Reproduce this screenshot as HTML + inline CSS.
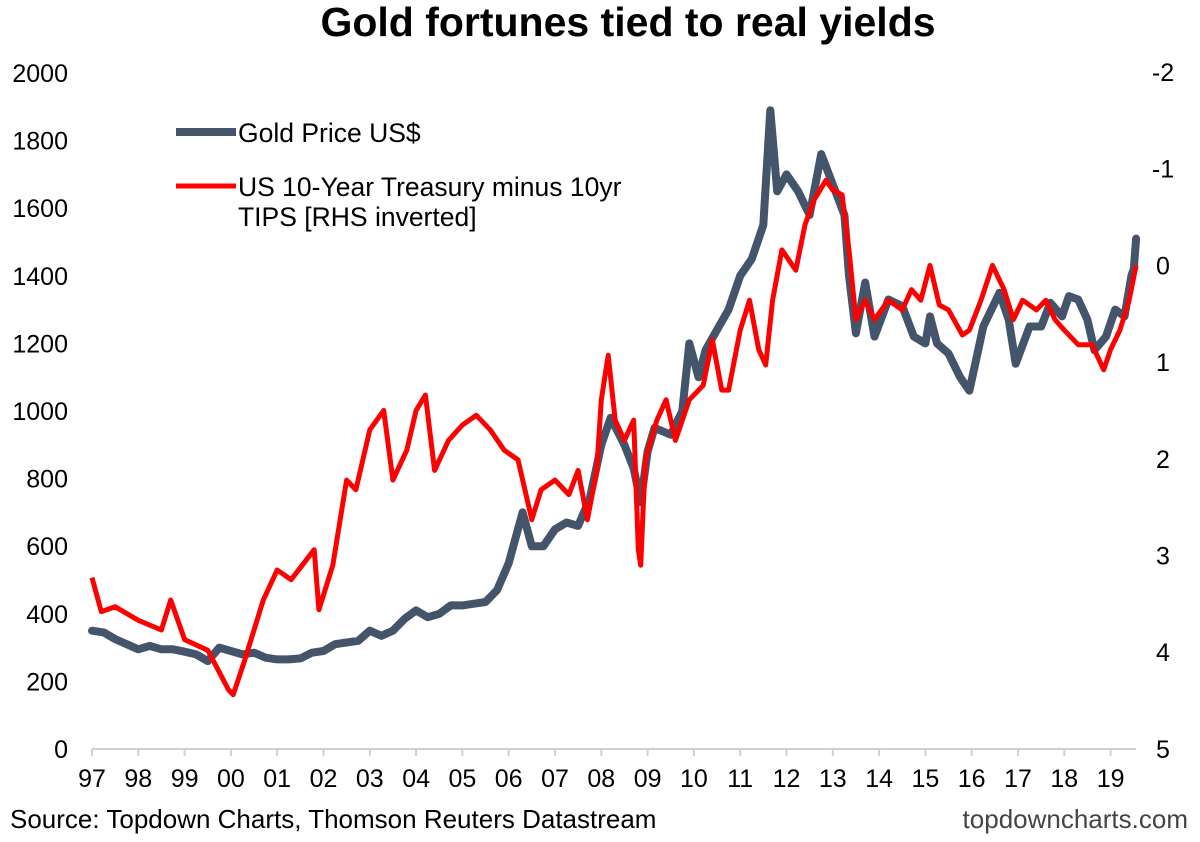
<!DOCTYPE html>
<html><head><meta charset="utf-8"><style>
body{margin:0;background:#fff;}
svg text{font-family:"Liberation Sans",Arial,sans-serif;}
</style></head><body>
<svg id="chart" width="1200" height="837" viewBox="0 0 1200 837">
<text x="628" y="36" text-anchor="middle" font-size="41" font-weight="bold">Gold fortunes tied to real yields</text>
<g id="axes"></g>
<g id="series"></g>
<g>
<line x1="176" y1="132" x2="236" y2="132" stroke="#44546a" stroke-width="8"/>
<text x="238" y="142" font-size="26.5">Gold Price US$</text>
<line x1="176" y1="186" x2="236" y2="186" stroke="#ff0000" stroke-width="5"/>
<text x="238" y="196" font-size="26.5">US 10-Year Treasury minus 10yr</text>
<text x="238" y="226" font-size="26.5">TIPS [RHS inverted]</text>
</g>
<text x="10" y="828" font-size="26">Source: Topdown Charts, Thomson Reuters Datastream</text>
<text x="1188" y="828" font-size="26" fill="#444" text-anchor="end">topdowncharts.com</text>
</svg>
<script>
const yearLabels=["97","98","99","00","01","02","03","04","05","06","07","08","09","10","11","12","13","14","15","16","17","18","19"];
const leftTicks=[0,200,400,600,800,1000,1200,1400,1600,1800,2000];
const rightTicks=[-2,-1,0,1,2,3,4,5];
const goldT=[1997,1997.25,1997.5,1997.75,1998,1998.25,1998.5,1998.75,1999,1999.25,1999.5,1999.75,2000,2000.25,2000.5,2000.75,2001,2001.25,2001.5,2001.75,2002,2002.25,2002.5,2002.75,2003,2003.25,2003.5,2003.75,2004,2004.25,2004.5,2004.75,2005,2005.25,2005.5,2005.75,2006,2006.3,2006.5,2006.75,2007,2007.25,2007.5,2007.75,2008,2008.2,2008.5,2008.7,2008.85,2009,2009.15,2009.5,2009.75,2009.9,2010.1,2010.25,2010.5,2010.75,2011,2011.25,2011.5,2011.65,2011.8,2012,2012.25,2012.5,2012.75,2013,2013.25,2013.35,2013.5,2013.7,2013.9,2014.2,2014.5,2014.75,2015,2015.1,2015.25,2015.5,2015.75,2015.95,2016.25,2016.6,2016.8,2016.95,2017.25,2017.5,2017.7,2017.95,2018.1,2018.3,2018.5,2018.65,2018.9,2019.1,2019.3,2019.45,2019.5,2019.55];
const goldV=[350,345,325,310,295,305,295,295,288,280,260,300,290,280,285,270,265,265,268,285,290,310,315,320,350,335,350,385,410,390,400,425,425,430,435,470,550,700,600,600,650,670,660,740,900,980,900,830,730,880,950,930,1000,1200,1100,1180,1240,1300,1400,1450,1550,1890,1650,1700,1650,1580,1760,1670,1580,1400,1230,1380,1220,1330,1310,1220,1200,1280,1200,1170,1100,1060,1250,1350,1270,1140,1250,1250,1320,1280,1340,1330,1270,1180,1220,1300,1280,1400,1420,1510];
const yieldT=[1997,1997.2,1997.5,1998,1998.5,1998.7,1999,1999.5,1999.95,2000.05,2000.3,2000.7,2001,2001.3,2001.8,2001.9,2002.2,2002.5,2002.7,2003,2003.3,2003.5,2003.8,2004,2004.2,2004.4,2004.7,2005,2005.3,2005.6,2005.9,2006.2,2006.5,2006.7,2007,2007.3,2007.5,2007.7,2007.9,2008,2008.15,2008.3,2008.5,2008.7,2008.8,2008.85,2008.95,2009.2,2009.4,2009.6,2009.9,2010.2,2010.4,2010.6,2010.75,2011,2011.2,2011.4,2011.55,2011.7,2011.9,2012.2,2012.4,2012.6,2012.85,2013,2013.2,2013.35,2013.5,2013.7,2013.9,2014.2,2014.5,2014.7,2014.9,2015.1,2015.3,2015.5,2015.8,2015.95,2016.2,2016.45,2016.7,2016.9,2017.1,2017.4,2017.6,2017.8,2018,2018.3,2018.6,2018.85,2019,2019.2,2019.4,2019.55];
const yieldV=[3.23,3.58,3.53,3.67,3.77,3.46,3.87,3.98,4.39,4.44,4.08,3.46,3.15,3.25,2.94,3.56,3.10,2.22,2.32,1.70,1.50,2.22,1.91,1.50,1.34,2.12,1.81,1.65,1.55,1.70,1.91,2.01,2.63,2.32,2.22,2.37,2.12,2.63,2.12,1.39,0.93,1.60,1.81,1.60,2.94,3.10,2.01,1.60,1.39,1.81,1.39,1.24,0.77,1.29,1.29,0.67,0.36,0.87,1.03,0.36,-0.16,0.05,-0.42,-0.68,-0.88,-0.78,-0.73,-0.16,0.56,0.36,0.56,0.36,0.46,0.25,0.36,0.0,0.41,0.46,0.72,0.67,0.36,0.0,0.25,0.56,0.36,0.46,0.36,0.56,0.67,0.82,0.82,1.08,0.87,0.67,0.36,0.0];
const NS="http://www.w3.org/2000/svg";
const xs=t=>92+(t-1997)*46.3;
const yL=v=>749-v*0.338;
const yR=r=>72+(r+2)*96.7;
const axes=document.getElementById('axes'),series=document.getElementById('series');
function mk(tag,attrs,parent){const e=document.createElementNS(NS,tag);for(const k in attrs)e.setAttribute(k,attrs[k]);parent.appendChild(e);return e;}
const axisLine=mk('line',{x1:92,y1:749,x2:1136,y2:749,stroke:'#d0d0d0','stroke-width':2},axes);


yearLabels.forEach((lab,i)=>{
  const x=xs(1997+i);
  const tk=mk('line',{x1:x,y1:749,x2:x,y2:756,stroke:'#d0d0d0','stroke-width':2},axes);
  
  
  const t=mk('text',{x:x,y:787,'text-anchor':'middle','font-size':25},axes);t.textContent=lab;
  
  
});
leftTicks.forEach(v=>{
  const t=mk('text',{x:68,y:yL(v)+9,'text-anchor':'end','font-size':25},axes);t.textContent=v;
  
  
});
rightTicks.forEach(v=>{
  const t=mk('text',{x:1163,y:yR(v)+9,'text-anchor':'middle','font-size':25},axes);t.textContent=v;
  
  
});
const gp=mk('polyline',{points:goldT.map((t,i)=>xs(t).toFixed(1)+','+yL(goldV[i]).toFixed(1)).join(' '),fill:'none',stroke:'#44546a','stroke-width':8,'stroke-linejoin':'round','stroke-linecap':'round'},series);


const rp=mk('polyline',{points:yieldT.map((t,i)=>xs(t).toFixed(1)+','+yR(yieldV[i]).toFixed(1)).join(' '),fill:'none',stroke:'#ff0000','stroke-width':5,'stroke-linejoin':'round'},series);


</script>
</body></html>
